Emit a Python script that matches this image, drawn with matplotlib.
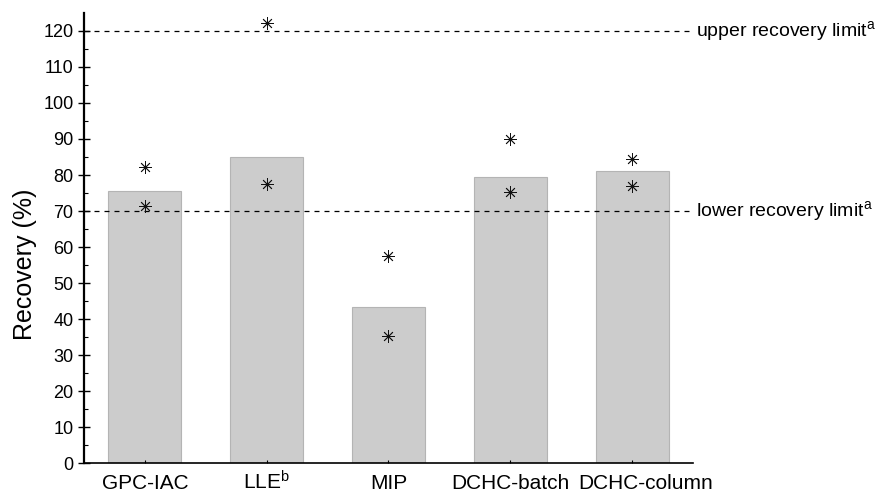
import numpy as np
import matplotlib.pyplot as plt
import matplotlib.transforms as mtransforms

plt.rcParams['font.family'] = ['Liberation Sans', 'DejaVu Sans']
plt.rcParams['mathtext.fontset'] = 'custom'
plt.rcParams['mathtext.rm'] = 'Liberation Sans'
plt.rcParams['mathtext.it'] = 'Liberation Sans'

methods = ['GPC-IAC', r'LLE$^{\mathrm{b}}$', 'MIP', 'DCHC-batch', 'DCHC-column']
mean_recovery = [75.5, 85.1, 43.2, 79.4, 81.1]
rep_high = [82.1, 122.3, 57.5, 90.0, 84.5]
rep_low = [71.3, 77.4, 35.3, 75.3, 77.0]
lower_limit = 70
upper_limit = 120


def main():
    fig = plt.figure(figsize=(8.81, 4.92), dpi=100)
    ax = fig.add_axes([0.0953, 0.0589, 0.6913, 0.9147])
    x = np.arange(len(methods))

    ax.bar(x, mean_recovery, width=0.6, color='#cccccc', edgecolor='#b4b4b4',
           linewidth=0.8, zorder=1)

    # limits
    for lim in (lower_limit, upper_limit):
        ax.axhline(lim, color='black', lw=0.9, ls=(0, (4, 4)), zorder=2)
    ax.text(1.005, upper_limit, r'upper recovery limit$^{\mathrm{a}}$',
            transform=ax.get_yaxis_transform(), va='center', ha='left', fontsize=14)
    ax.text(1.005, lower_limit, r'lower recovery limit$^{\mathrm{a}}$',
            transform=ax.get_yaxis_transform(), va='center', ha='left', fontsize=14)

    # single replicates
    for reps in (rep_high, rep_low):
        ax.plot(x, reps, ls='none', marker=(8, 2, 0), ms=9, mew=0.6,
                color='#111111', zorder=3, clip_on=False)

    ax.set_xlim(-0.5, 4.5)
    ax.set_ylim(0, 125)
    ax.set_yticks(np.arange(0, 121, 10))
    ax.set_yticks(np.arange(5, 121, 10), minor=True)
    ax.set_xticks(x)
    ax.set_xticklabels(methods, fontsize=15)
    ax.tick_params(axis='y', which='major', direction='inout', length=8, width=1, labelsize=13)
    ax.tick_params(axis='y', which='minor', direction='in', length=3, width=0.8)
    ax.tick_params(axis='x', direction='in', length=2, width=0.8, pad=19)
    for lbl in ax.get_xticklabels():
        lbl.set_va('baseline')
    # last label sits a bit to the right in the original
    last = ax.get_xticklabels()[-1]
    last.set_transform(last.get_transform() +
                       mtransforms.ScaledTranslation(14 / 100, 0, fig.dpi_scale_trans))

    ax.set_ylabel('Recovery (%)', fontsize=18)
    ax.yaxis.set_label_coords(-0.077, 0.442)

    ax.spines['top'].set_visible(False)
    ax.spines['right'].set_visible(False)
    ax.spines['left'].set_linewidth(1.6)
    ax.spines['bottom'].set_linewidth(1.2)

    fig.savefig('out.png', dpi=100)


if __name__ == "__main__":
    main()
